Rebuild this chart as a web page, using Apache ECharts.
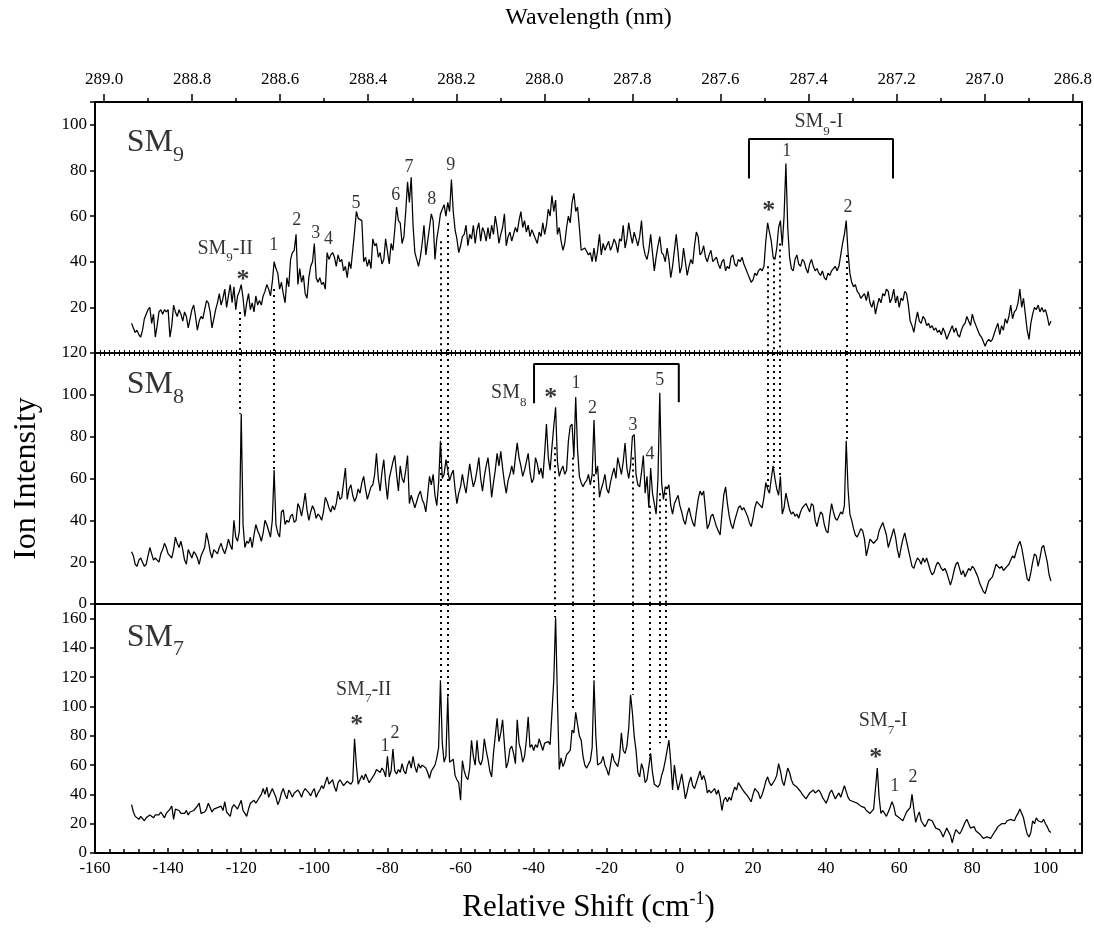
<!DOCTYPE html>
<html>
<head>
<meta charset="utf-8">
<script src="https://cdn.jsdelivr.net/npm/echarts@6.0.0/dist/echarts.min.js"></script>
<style>
  html, body { margin: 0; padding: 0; background: #fff; }
  #chart { width: 1094px; height: 928px; }
</style>
</head>
<body>
<div id="chart"></div>
<script>
// Spectra sampled every 0.5 cm-1 starting at -150 cm-1 (relative shift)
const shiftStart = -150;
const shiftStep = 0.5;

// SM9 ion intensity
const sm9 = [
  13,11,9,10,8,7,10,15,17,19,20,13,17,7,12,18,19,17,19,18,
  19,7,12,21,18,16,19,17,14,18,16,11,15,19,21,16,10,14,16,15,
  19,23,22,18,11,15,19,22,26,21,24,28,20,25,30,22,29,19,25,27,
  30,24,16,22,26,19,22,18,25,21,23,21,25,27,30,28,25,31,40,37,
  35,28,31,26,22,33,29,41,44,45,52,30,37,31,34,26,24,33,38,40,
  48,33,31,33,30,31,28,44,41,43,44,42,38,43,40,41,36,38,33,40,
  37,45,53,62,59,59,58,40,42,38,41,37,50,47,48,42,44,39,41,50,
  50,39,48,45,54,64,58,57,48,51,62,75,66,77,56,44,41,38,42,48,
  56,43,49,55,61,58,41,50,55,61,63,65,60,66,62,76,62,54,50,44,
  47,51,52,56,47,52,50,56,48,54,57,49,55,53,49,55,50,56,52,60,
  55,48,52,55,61,47,51,53,49,52,55,53,58,62,55,58,53,56,51,54,
  52,50,48,53,51,57,52,56,63,60,69,62,67,52,55,49,45,48,55,60,
  57,66,70,62,64,55,45,45,46,46,43,44,40,46,40,45,52,43,48,45,
  47,49,45,47,50,48,44,50,49,56,46,50,57,52,48,53,50,47,51,58,
  47,43,41,45,52,44,36,42,47,51,44,43,40,46,41,33,38,45,52,44,
  35,38,46,40,34,38,41,39,47,53,51,43,44,47,42,40,43,45,40,41,
  42,39,37,40,41,36,38,37,42,43,39,38,41,40,42,39,37,35,33,31,
  32,35,34,36,37,36,38,49,57,53,49,42,41,46,55,58,47,60,83,55,
  42,37,36,41,43,39,38,41,40,37,35,39,41,38,36,37,35,34,36,33,
  32,35,34,36,37,38,36,38,43,48,52,58,44,35,31,29,30,27,26,24,
  24,26,23,27,22,20,23,17,21,24,22,26,25,28,27,22,24,28,22,25,
  20,24,23,27,26,21,14,12,9,14,18,14,13,16,15,12,13,11,12,10,
  11,9,10,8,11,9,6,8,10,12,9,11,8,7,10,12,13,16,14,12,
  17,14,12,10,8,7,5,3,5,6,5,6,6,11,13,8,12,10,15,13,
  16,21,15,18,19,22,28,20,24,17,10,6,13,17,20,19,21,18,20,18,
  19,16,12,14
];

// SM8 ion intensity
const sm8 = [
  25,23,19,18,21,22,20,18,19,23,27,24,21,22,21,20,24,26,29,27,
  24,23,22,26,32,29,27,30,26,21,19,26,24,22,25,24,22,19,23,25,
  27,34,30,25,22,26,25,24,27,29,26,24,27,31,28,26,40,32,30,35,
  91,38,27,30,29,32,27,33,38,35,33,30,34,40,38,35,32,40,64,38,
  34,32,44,45,38,40,39,42,43,39,40,48,46,42,47,53,45,40,44,47,
  45,41,43,42,40,44,51,49,46,44,47,45,48,54,50,51,58,65,50,55,
  57,52,49,51,55,53,58,61,55,50,53,56,57,62,72,60,54,63,69,58,
  50,60,64,68,71,62,54,66,60,58,64,71,48,52,49,46,49,52,54,50,
  48,44,52,61,57,62,52,47,58,78,60,62,69,64,59,62,64,55,48,53,
  56,62,57,53,60,67,61,56,59,64,70,60,54,61,66,70,62,51,58,64,
  72,66,73,65,58,53,59,62,66,62,70,77,70,66,61,64,68,72,63,58,
  60,70,67,62,65,60,72,86,70,64,75,85,94,68,61,64,66,62,64,78,
  85,86,70,99,74,61,58,56,58,59,62,57,62,88,62,66,51,55,58,62,
  55,53,58,62,65,60,70,66,62,68,77,65,60,66,80,81,62,57,56,63,
  71,53,61,46,65,53,48,43,60,101,58,50,56,55,57,47,43,48,50,52,
  47,44,40,38,43,46,42,39,37,44,50,54,52,54,45,36,38,42,43,40,
  37,35,33,43,52,56,48,42,38,36,40,43,46,47,45,46,46,42,39,37,
  41,46,49,48,47,46,51,58,55,53,60,66,60,55,52,61,43,46,53,49,
  45,43,44,42,43,41,44,46,47,48,46,44,48,47,40,37,41,44,43,38,
  35,34,42,48,44,41,40,42,44,43,47,78,55,43,40,36,33,32,34,36,
  35,31,23,27,31,30,29,30,31,35,37,39,36,33,27,30,33,36,32,26,
  22,27,31,34,30,26,22,18,17,20,22,21,19,22,20,22,19,16,14,15,
  18,20,19,17,16,17,15,12,9,12,16,19,20,17,14,16,13,15,17,16,
  18,17,15,13,10,8,6,5,8,11,12,13,16,19,18,17,18,16,16,18,
  19,21,23,22,25,28,30,27,22,17,12,11,15,20,24,23,18,22,27,28,
  24,20,14,11
];

// SM7 ion intensity
const sm7 = [
  33,28,25,26,23,25,24,22,24,25,26,25,24,26,27,26,28,29,24,27,
  28,30,32,23,30,31,29,27,28,27,29,26,28,27,29,30,32,34,27,28,
  28,30,34,31,28,30,29,31,30,32,29,35,28,27,25,31,33,34,30,29,
  36,29,27,25,30,34,33,36,34,36,37,40,44,40,45,38,37,44,41,38,
  33,36,41,44,40,37,43,41,38,41,40,43,41,38,42,44,45,41,39,42,
  44,38,41,43,46,44,43,52,47,46,50,45,42,48,50,48,46,47,49,48,
  47,49,78,60,47,50,53,50,54,55,48,50,51,54,57,56,55,58,56,52,
  66,52,56,71,56,54,57,55,61,56,54,60,63,58,66,59,55,61,58,60,
  60,58,55,51,56,58,60,65,72,118,75,62,66,107,62,61,64,53,50,48,
  36,63,56,52,50,58,77,66,60,77,63,60,64,78,70,64,56,52,68,80,
  92,76,82,91,74,58,62,71,73,68,61,91,75,70,62,66,77,93,72,74,
  70,74,72,78,79,70,75,74,76,74,75,118,161,105,57,65,59,62,67,68,
  70,84,82,96,88,80,77,66,60,58,57,63,72,118,80,60,60,62,66,60,
  57,53,60,68,63,61,59,66,82,70,68,73,85,108,96,80,70,55,52,61,
  57,48,50,51,68,55,47,46,45,47,53,57,63,70,77,62,43,60,50,43,
  48,54,46,37,42,48,52,46,44,48,52,56,50,53,49,41,43,41,42,44,
  40,43,38,29,36,38,35,38,36,41,45,43,48,47,44,42,41,39,37,35,
  40,44,45,41,37,40,44,49,52,48,46,45,50,53,61,56,49,46,52,58,
  55,50,47,48,45,44,42,40,39,37,39,41,42,43,41,42,43,41,38,36,
  34,37,41,43,40,37,39,41,38,42,46,45,38,36,37,35,36,34,33,32,
  32,31,29,28,27,28,30,29,58,38,27,29,27,25,28,31,35,32,26,25,
  24,23,22,25,28,29,31,40,30,21,25,28,22,20,18,20,23,24,22,21,
  17,18,16,14,11,14,17,18,12,7,12,16,15,13,15,18,21,23,20,17,
  16,18,15,14,13,12,10,9,11,12,10,11,14,16,18,19,20,21,20,22,
  21,23,24,22,25,27,30,29,24,18,13,11,14,22,20,24,22,23,21,23,
  20,18,15,14
];

// Axis ranges and tick labels
const shiftRange = [-160, 110];
const panelMax = [110, 120, 170];
const wavelengthRange = [286.779, 289.0205];
const wavelengthTicks = [289.0, 288.8, 288.6, 288.4, 288.2, 288.0, 287.8, 287.6, 287.4, 287.2, 287.0, 286.8];
const wavelengthMinorTicks = [288.9, 288.7, 288.5, 288.3, 288.1, 287.9, 287.7, 287.5, 287.3, 287.1, 286.9];

// Peak markers: [shift, intensity, text]
const sm9Marks = [
  [-119.5, 32, '*'], [-111.1, 47.3, '1'], [-104.8, 58.3, '2'], [-99.6, 52.6, '3'],
  [-96.1, 50, '4'], [-88.6, 65.7, '5'], [-77.7, 69, '6'], [-74.1, 81.5, '7'],
  [-67.9, 67.5, '8'], [-62.7, 82.4, '9'],
  [24.3, 62, '*'], [29.2, 88.2, '1'], [46, 64, '2']
];
const sm8Marks = [
  [-35.3, 98.5, '*'], [-28.4, 105.5, '1'], [-23.9, 93.5, '2'], [-12.8, 85.6, '3'],
  [-8.2, 71.6, '4'], [-5.5, 107, '5']
];
const sm7Marks = [
  [-88.4, 87.5, '*'], [-80.7, 73, '1'], [-77.9, 81.7, '2'],
  [53.6, 65, '*'], [58.8, 45.3, '1'], [63.8, 52, '2']
];

// Band group tags: [shift, intensity, name, subscript, suffix]
const sm9Tags = [[-124.4, 45.8, 'SM', '9', '-II'], [38.0, 101.4, 'SM', '9', '-I']];
const sm8Tags = [[-46.8, 101, 'SM', '8', '']];
const sm7Tags = [[-86.5, 111.6, 'SM', '7', '-II'], [55.6, 90.1, 'SM', '7', '-I']];

// Panel titles: [shift, intensity, subscript]
const panelTitles = [[-151.3, 92, '9'], [-151.3, 104.7, '8'], [-151.3, 147.4, '7']];

// Brackets grouping bands
const sm9Bracket = [[18.9, 76.5], [18.9, 93.8], [58.3, 93.8], [58.3, 76.5]];
const sm8Bracket = [[-39.9, 96], [-39.9, 114.7], [-0.3, 114.7], [-0.3, 96.4]];

// Dotted correlation lines: [shift, startPanel, startIntensity, endPanel, endIntensity]
const connectors = [
  [-120.3, 0, 18, 1, 91],
  [-111.1, 0, 28, 1, 64],
  [-65.5, 0, 49, 2, 118],
  [-63.5, 0, 57, 2, 107],
  [23.9, 0, 38, 1, 55],
  [25.6, 0, 42, 1, 65],
  [27.4, 0, 48, 1, 60],
  [45.7, 0, 43, 1, 78],
  [-34.2, 1, 75, 2, 161],
  [-29.2, 1, 70, 2, 97],
  [-23.6, 1, 62, 2, 118],
  [-12.9, 1, 70, 2, 108],
  [-8.2, 1, 47, 2, 66],
  [-5.5, 1, 53, 2, 75],
  [-4.0, 1, 56, 2, 76]
];

const FONT = '"Liberation Serif", "Times New Roman", serif';
const BLACK = '#000';

const toPairs = vals => vals.map((v, i) => [shiftStart + i * shiftStep, v]);

function connectorSegments(panel) {
  const out = [];
  connectors.forEach(([x, p0, v0, p1, v1]) => {
    if (panel < p0 || panel > p1) return;
    const top = panel === p0 ? v0 : panelMax[panel];
    const bottom = panel === p1 ? v1 : 0;
    out.push([{ coord: [x, top] }, { coord: [x, bottom] }]);
  });
  return out;
}

const tagRich = {
  m: { fontFamily: FONT, fontSize: 20, lineHeight: 20, color: BLACK },
  s: { fontFamily: FONT, fontSize: 13, lineHeight: 32, verticalAlign: 'bottom', color: BLACK }
};
const titleRich = {
  m: { fontFamily: FONT, fontSize: 32, lineHeight: 32, color: BLACK },
  s: { fontFamily: FONT, fontSize: 22, lineHeight: 46, verticalAlign: 'bottom', color: BLACK }
};

function annotationSeries(panel, xIdx, yIdx, marks, tags) {
  const data = [];
  marks.forEach(([x, y, t]) => {
    const star = t === '*';
    data.push({
      value: [x, y],
      label: {
        formatter: t,
        fontSize: star ? 26 : 18,
        fontWeight: star ? 'bold' : 'normal'
      }
    });
  });
  tags.forEach(([x, y, name, sub, suffix]) => {
    data.push({
      value: [x, y],
      label: {
        formatter: '{m|' + name + '}{s|' + sub + '}' + (suffix ? '{m|' + suffix + '}' : ''),
        rich: tagRich
      }
    });
  });
  const [tx, ty, tsub] = panelTitles[panel];
  data.push({
    value: [tx, ty],
    label: { formatter: '{m|SM}{s|' + tsub + '}', rich: titleRich, align: 'left' }
  });
  return {
    type: 'scatter',
    xAxisIndex: xIdx,
    yAxisIndex: yIdx,
    symbolSize: 1,
    itemStyle: { color: 'rgba(0,0,0,0)' },
    silent: true,
    z: 5,
    label: {
      show: true,
      position: 'inside',
      color: BLACK,
      fontFamily: FONT,
      fontSize: 18
    },
    data
  };
}

function traceSeries(panel, xIdx, yIdx, vals) {
  return {
    type: 'line',
    xAxisIndex: xIdx,
    yAxisIndex: yIdx,
    data: toPairs(vals),
    symbol: 'none',
    showSymbol: false,
    silent: true,
    lineStyle: { color: BLACK, width: 1.25 },
    z: 3,
    markLine: {
      silent: true,
      symbol: ['none', 'none'],
      label: { show: false },
      emphasis: { disabled: true },
      lineStyle: { color: BLACK, width: 2, type: [2, 4] },
      data: connectorSegments(panel)
    }
  };
}

function bracketSeries(xIdx, yIdx, pts) {
  return {
    type: 'line',
    xAxisIndex: xIdx,
    yAxisIndex: yIdx,
    data: pts,
    symbol: 'none',
    silent: true,
    lineStyle: { color: BLACK, width: 2 },
    z: 4
  };
}

const axisLineStyle = { show: true, onZero: false, lineStyle: { color: BLACK, width: 2 } };
const tickLabel = { color: BLACK, fontFamily: FONT, fontSize: 17 };
const gridBox = [
  { left: 95, right: 12, top: 102, height: 251, outerBoundsMode: 'none', containLabel: false },
  { left: 95, right: 12, top: 353, height: 251, outerBoundsMode: 'none', containLabel: false },
  { left: 95, right: 12, top: 604, height: 249, outerBoundsMode: 'none', containLabel: false }
];

function shiftAxis(gridIndex, extra) {
  return Object.assign({
    type: 'value',
    gridIndex,
    position: 'bottom',
    min: shiftRange[0],
    max: shiftRange[1],
    interval: 20,
    axisLine: axisLineStyle,
    axisTick: { show: false },
    axisLabel: { show: false },
    splitLine: { show: false }
  }, extra);
}

function leftAxis(gridIndex, max, hideFn, extra) {
  return Object.assign({
    type: 'value',
    gridIndex,
    position: 'left',
    min: 0,
    max,
    interval: 20,
    axisLine: axisLineStyle,
    axisTick: { show: true, length: 5, lineStyle: { color: BLACK, width: 1.5 } },
    axisLabel: Object.assign({ margin: 8, formatter: v => (hideFn(v) ? '' : String(v)) }, tickLabel),
    splitLine: { show: false }
  }, extra);
}

function rightAxis(gridIndex, max) {
  return {
    type: 'value',
    gridIndex,
    position: 'right',
    min: 0,
    max,
    interval: 20,
    axisLine: axisLineStyle,
    axisTick: { show: true, inside: true, length: 3, lineStyle: { color: BLACK, width: 1.5 } },
    axisLabel: { show: false },
    splitLine: { show: false }
  };
}

const option = {
  animation: false,
  backgroundColor: '#fff',
  grid: gridBox,
  xAxis: [
    // SM9 bottom edge, ticks hanging below
    shiftAxis(0, {
      axisTick: { show: true, length: 3, lineStyle: { color: BLACK } },
      minorTick: { show: true, splitNumber: 15, length: 3, lineStyle: { color: BLACK } }
    }),
    // SM9 bottom edge, ticks pointing up
    shiftAxis(0, {
      axisLine: { show: false, onZero: false },
      axisTick: { show: true, inside: true, length: 3, lineStyle: { color: BLACK } },
      minorTick: { show: true, splitNumber: 15, length: 3, lineStyle: { color: BLACK } }
    }),
    // Wavelength scale along the top
    {
      type: 'value',
      gridIndex: 0,
      position: 'top',
      min: wavelengthRange[0],
      max: wavelengthRange[1],
      inverse: true,
      axisLine: axisLineStyle,
      axisTick: { show: true, length: 8, customValues: wavelengthTicks, lineStyle: { color: BLACK, width: 1.5 } },
      axisLabel: Object.assign({ margin: 14, customValues: wavelengthTicks, formatter: v => v.toFixed(1) }, tickLabel),
      splitLine: { show: false },
      name: 'Wavelength (nm)',
      nameLocation: 'middle',
      nameGap: 72,
      nameTextStyle: { color: BLACK, fontFamily: FONT, fontSize: 24 }
    },
    {
      type: 'value',
      gridIndex: 0,
      position: 'top',
      min: wavelengthRange[0],
      max: wavelengthRange[1],
      inverse: true,
      axisLine: { show: false, onZero: false },
      axisTick: { show: true, length: 4, customValues: wavelengthMinorTicks, lineStyle: { color: BLACK, width: 1.5 } },
      axisLabel: { show: false },
      splitLine: { show: false }
    },
    // SM8 bottom edge
    shiftAxis(1, {}),
    // SM7 bottom: relative shift scale
    shiftAxis(2, {
      axisTick: { show: true, inside: true, length: 5, lineStyle: { color: BLACK, width: 1.5 } },
      minorTick: { show: true, splitNumber: 5, length: 4, lineStyle: { color: BLACK, width: 1.5 } },
      axisLabel: Object.assign({ show: true, margin: 7, formatter: v => (v > 100 ? '' : String(v)) }, tickLabel),
      name: '{t|Relative Shift (cm}{p|-1}{t|)}',
      nameLocation: 'middle',
      nameGap: 37,
      nameTextStyle: {
        rich: {
          t: { fontFamily: FONT, fontSize: 31, lineHeight: 36, color: BLACK },
          p: { fontFamily: FONT, fontSize: 18, verticalAlign: 'top', color: BLACK }
        }
      }
    })
  ],
  yAxis: [
    leftAxis(0, panelMax[0], v => v === 0 || v > 100),
    rightAxis(0, panelMax[0]),
    leftAxis(1, panelMax[1], v => false, {
      name: 'Ion Intensity',
      nameLocation: 'middle',
      nameGap: 52,
      nameTextStyle: { color: BLACK, fontFamily: FONT, fontSize: 32 }
    }),
    rightAxis(1, panelMax[1]),
    leftAxis(2, panelMax[2], v => v > 160),
    rightAxis(2, panelMax[2])
  ],
  series: [
    traceSeries(0, 0, 0, sm9),
    traceSeries(1, 4, 2, sm8),
    traceSeries(2, 5, 4, sm7),
    bracketSeries(0, 0, sm9Bracket),
    bracketSeries(4, 2, sm8Bracket),
    annotationSeries(0, 0, 0, sm9Marks, sm9Tags),
    annotationSeries(1, 4, 2, sm8Marks, sm8Tags),
    annotationSeries(2, 5, 4, sm7Marks, sm7Tags)
  ]
};

const chart = echarts.init(document.getElementById('chart'), null, { renderer: 'canvas' });
chart.setOption(option);
</script>
</body>
</html>
